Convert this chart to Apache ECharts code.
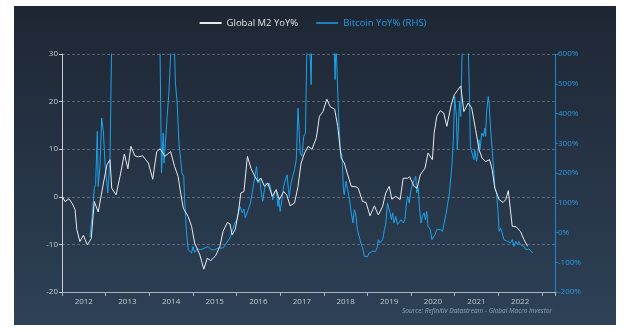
<!DOCTYPE html>
<html>
<head>
<meta charset="utf-8">
<style>
  html, body { margin: 0; padding: 0; background: #ffffff; }
  #chart { width: 626px; height: 332px; }
</style>
<script src="https://cdn.jsdelivr.net/npm/echarts@6/dist/echarts.min.js"></script>
</head>
<body>
<div id="chart"></div>
<script>
// Years as decimal (tick = start of year)
var yearLabels = ['2012','2013','2014','2015','2016','2017','2018','2019','2020','2021','2022'];
var leftTicks = [-20, -10, 0, 10, 20, 30];
var rightTicks = [-200, -100, 0, 100, 200, 300, 400, 500, 600];

var m2Dates = [2012.00,2012.07,2012.16,2012.24,2012.30,2012.34,2012.41,2012.49,2012.58,2012.67,2012.74,2012.83,2012.95,
  2013.03,2013.10,2013.14,2013.24,2013.33,2013.43,2013.51,2013.58,2013.67,2013.75,2013.85,2013.98,
  2014.08,2014.17,2014.25,2014.28,2014.36,2014.49,2014.58,2014.66,2014.72,2014.78,2014.89,2014.97,
  2015.04,2015.16,2015.25,2015.33,2015.41,2015.52,2015.62,2015.69,2015.79,2015.85,2015.90,2015.97,
  2016.04,2016.10,2016.17,2016.25,2016.33,2016.42,2016.49,2016.56,2016.64,2016.72,2016.82,2016.91,2016.98,
  2017.08,2017.15,2017.23,2017.33,2017.41,2017.48,2017.56,2017.64,2017.73,2017.83,2017.90,2017.98,
  2018.07,2018.15,2018.25,2018.32,2018.40,2018.47,2018.55,2018.63,2018.74,2018.79,2018.89,2018.97,
  2019.06,2019.16,2019.25,2019.35,2019.42,2019.50,2019.56,2019.65,2019.75,2019.82,2019.92,2019.97,
  2020.07,2020.14,2020.21,2020.32,2020.39,2020.49,2020.53,2020.59,2020.67,2020.75,2020.82,2020.92,2020.99,
  2021.02,2021.14,2021.21,2021.31,2021.39,2021.48,2021.56,2021.63,2021.71,2021.80,2021.86,2021.92,
  2022.02,2022.11,2022.17,2022.23,2022.32,2022.41,2022.51,2022.59,2022.67];
var m2Values = [0.2,-1.0,-0.4,-1.5,-2.7,-6.9,-9.4,-8.1,-10.1,-8.8,-1.0,-3.2,2.9,
  6.7,7.8,1.8,0.4,4.3,9.0,5.9,10.6,8.6,8.4,8.6,7.1,
  3.7,9.5,10.1,9.9,8.5,9.5,6.4,4.3,0.8,-2.4,-4.1,-6.2,
  -9.7,-12.2,-15.2,-12.9,-13.4,-12.4,-10.4,-7.3,-5.4,-5.7,-8.0,-6.9,
  -3.4,0.8,1.1,8.5,6.0,4.3,3.2,3.9,2.2,2.9,0.1,1.5,-0.6,
  1.1,0.4,-1.9,-1.3,2.2,7.1,9.2,10.6,10.0,12.4,16.9,17.9,
  20.5,18.9,18.4,14.8,8.1,7.1,4.6,2.2,2.1,1.8,-1.0,-1.2,
  -4.0,-1.9,-3.8,-2.0,0.8,2.2,-0.5,0.1,-0.6,3.9,3.9,4.2,
  2.2,1.8,4.6,6.0,9.2,7.8,13.4,16.9,18.1,17.6,14.8,19.3,21.4,
  21.8,23.3,17.9,19.7,18.7,14.1,9.9,8.1,7.4,7.8,5.7,1.8,
  -0.6,-1.2,-0.6,1.3,-6.2,-6.3,-7.3,-9.0,-10.4];

var btcDates = [2012.64,2012.69,2012.74,2012.77,2012.81,2012.83,2012.87,2012.91,2012.95,2012.99,
  2013.03,2013.05,2013.08,2013.10,2013.12,2013.16,2013.30,2013.45,2013.60,2013.80,2013.95,
  2014.10,2014.24,2014.28,2014.32,2014.34,2014.37,2014.41,2014.45,2014.49,2014.52,2014.56,2014.60,2014.64,
  2014.68,2014.72,2014.75,2014.79,2014.81,2014.85,2014.89,2014.93,2014.97,
  2015.00,2015.04,2015.10,2015.18,2015.27,2015.35,2015.42,2015.50,2015.58,2015.69,2015.77,2015.85,2015.90,2015.96,
  2016.01,2016.08,2016.13,2016.17,2016.20,2016.27,2016.32,2016.36,2016.42,2016.46,2016.49,2016.53,2016.56,
  2016.60,2016.64,2016.68,2016.72,2016.75,2016.79,2016.83,2016.87,2016.91,2016.95,2016.97,
  2017.00,2017.04,2017.08,2017.12,2017.16,2017.19,2017.21,2017.25,2017.29,2017.33,2017.37,2017.41,2017.43,
  2017.46,2017.50,2017.54,2017.58,2017.61,2017.64,2017.71,2017.74,2017.85,2017.95,
  2018.05,2018.15,2018.22,2018.26,2018.28,2018.34,2018.38,2018.42,2018.45,2018.47,2018.51,2018.55,2018.59,
  2018.63,2018.67,2018.70,2018.73,2018.77,2018.81,2018.85,2018.89,2018.93,2018.97,
  2019.00,2019.04,2019.08,2019.12,2019.16,2019.19,2019.23,2019.25,2019.29,2019.35,2019.39,2019.42,2019.46,
  2019.49,2019.52,2019.55,2019.58,2019.61,2019.65,2019.69,2019.73,2019.77,2019.82,2019.86,2019.90,2019.92,2019.96,
  2020.00,2020.03,2020.07,2020.11,2020.13,2020.17,2020.19,2020.23,2020.26,2020.30,2020.33,2020.36,2020.39,
  2020.44,2020.48,2020.51,2020.55,2020.59,2020.63,2020.67,2020.72,2020.76,2020.80,2020.84,2020.88,2020.92,
  2020.94,2020.97,2021.00,2021.04,2021.06,2021.08,2021.11,2021.14,2021.17,2021.20,2021.26,2021.31,2021.34,
  2021.36,2021.40,2021.44,2021.46,2021.50,2021.53,2021.56,2021.58,2021.62,2021.66,2021.69,2021.71,2021.73,
  2021.77,2021.79,2021.82,2021.86,2021.90,2021.92,2021.96,2021.99,
  2022.02,2022.05,2022.09,2022.13,2022.17,2022.21,2022.25,2022.28,2022.32,2022.36,2022.40,2022.44,2022.47,
  2022.51,2022.55,2022.59,2022.63,2022.67,2022.70,2022.74,2022.79];
var btcValues = [-15,54,150,161,340,155,222,385,334,222,
  166,133,133,245,446,900,1500,1100,1400,3000,5500,
  2500,700,200,334,234,301,390,469,598,760,700,502,435,
  301,245,200,189,110,10,-58,-52,-69,
  -47,-67,-55,-58,-52,-47,-58,-58,-52,-52,-35,-18,4,32,
  43,88,66,79,49,77,99,133,189,222,166,183,144,
  105,144,166,155,166,144,110,133,144,88,110,
  71,110,155,177,194,144,121,166,189,211,245,418,424,
  267,256,323,334,598,800,497,800,1200,1600,
  1100,900,700,514,650,390,278,256,144,127,172,144,110,
  66,32,77,66,10,4,-35,-52,-80,-78,
  -82,-69,-63,-63,-58,-63,-47,-24,-35,-24,10,27,99,
  105,66,43,66,32,54,27,32,43,32,43,105,121,99,
  144,150,177,189,133,150,88,32,54,66,43,71,21,
  10,-24,-24,-7,10,4,10,4,32,60,66,133,138,
  230,312,457,390,278,334,441,390,598,900,1100,640,457,
  289,284,245,278,239,267,312,278,334,323,351,323,401,
  457,435,357,278,200,155,133,77,
  4,15,-2,-24,-18,-30,-24,-35,-24,-47,-30,-41,-30,
  -41,-35,-47,-58,-58,-55,-60,-69];

function zip(a, b) { return a.map(function (d, i) { return [d, b[i]]; }); }

var chart = echarts.init(document.getElementById('chart'), null, { renderer: 'canvas' });
var FONT = '"Open Sans", "Noto Sans", sans-serif';

chart.setOption({
  backgroundColor: 'transparent',
  animation: false,
  graphic: [
    {
      type: 'rect', z: -10, silent: true,
      shape: { x: 14, y: 6, width: 602, height: 319 },
      style: {
        fill: new echarts.graphic.LinearGradient(0, 0, 0, 1, [
          { offset: 0, color: '#1e2633' },
          { offset: 1, color: '#2d4157' }
        ])
      }
    },
    {
      type: 'text', z: 10, silent: true,
      right: 74, top: 308,
      style: {
        text: 'Source: Refinitiv Datastream - Global Macro Investor',
        fill: '#8fa6bf', font: 'italic 6.5px ' + FONT, textAlign: 'right'
      }
    }
  ],
  legend: {
    top: 13, left: 'center',
    itemWidth: 22, itemHeight: 2, itemGap: 18,
    icon: 'rect',
    textStyle: { fontFamily: FONT, fontSize: 9.5 },
    data: [
      { name: 'Global M2 YoY%', textStyle: { color: '#e2e4e8' } },
      { name: 'Bitcoin YoY% (RHS)', textStyle: { color: '#2a9be0' } }
    ]
  },
  grid: { left: 62, right: 71, top: 54, bottom: 40, containLabel: false },
  xAxis: {
    type: 'value', min: 2012, max: 2023.3, interval: 1,
    axisLine: { show: true, onZero: false, lineStyle: { color: '#aab2bb', width: 1 } },
    axisTick: { show: true, length: 4, lineStyle: { color: '#aab2bb' } },
    splitLine: { show: false },
    axisLabel: {
      color: '#c4c9cf', fontFamily: FONT, fontSize: 8, margin: 6,
      padding: [0, 0, 0, 43.6],
      formatter: function (v) {
        var i = Math.round(v) - 2012;
        return (Math.abs(v - Math.round(v)) < 1e-6 && i >= 0 && i < yearLabels.length) ? yearLabels[i] : '';
      }
    }
  },
  yAxis: [
    {
      type: 'value', min: leftTicks[0], max: leftTicks[leftTicks.length - 1], interval: 10,
      position: 'left',
      axisLine: { show: true, lineStyle: { color: '#c9ced4', width: 1 } },
      axisTick: { show: true, length: 3, lineStyle: { color: '#c9ced4' } },
      splitLine: { show: true, lineStyle: { color: 'rgba(190,200,210,0.35)', type: [3, 2], width: 1 } },
      axisLabel: { color: '#c9ced4', fontFamily: FONT, fontSize: 8, margin: 4 }
    },
    {
      type: 'value', min: rightTicks[0], max: rightTicks[rightTicks.length - 1], interval: 100,
      position: 'right',
      axisLine: { show: true, lineStyle: { color: '#1f7fbf', width: 1.2 } },
      axisTick: { show: true, length: 3, lineStyle: { color: '#1f7fbf' } },
      splitLine: { show: false },
      axisLabel: { color: '#2a9be0', fontFamily: FONT, fontSize: 8, margin: 3, formatter: '{value}%' }
    }
  ],
  series: [
    {
      name: 'Global M2 YoY%', type: 'line', yAxisIndex: 0,
      data: zip(m2Dates, m2Values),
      showSymbol: false, symbol: 'none', smooth: false, z: 3,
      lineStyle: { color: '#e8eaee', width: 1 },
      itemStyle: { color: '#e8eaee' }
    },
    {
      name: 'Bitcoin YoY% (RHS)', type: 'line', yAxisIndex: 1,
      data: zip(btcDates, btcValues),
      showSymbol: false, symbol: 'none', smooth: false, z: 2, clip: true,
      lineStyle: { color: '#1ea2ea', width: 1 },
      itemStyle: { color: '#1e7fc0' }
    }
  ]
});
</script>
</body>
</html>
